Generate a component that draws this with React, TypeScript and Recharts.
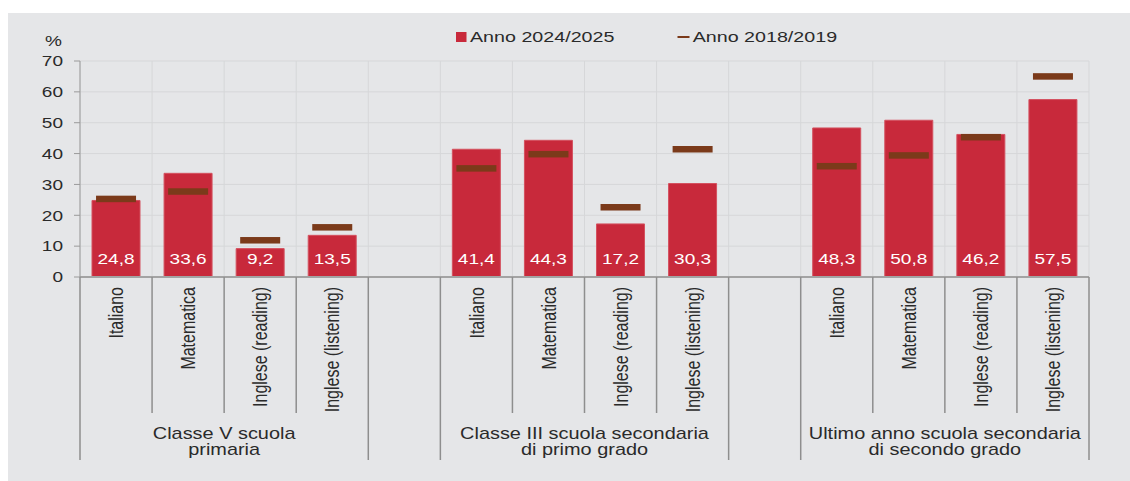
import { ComposedChart, Bar, Scatter, XAxis, YAxis, CartesianGrid, LabelList } from 'recharts';

// values (%)
const subjects = ['Italiano', 'Matematica', 'Inglese (reading)', 'Inglese (listening)'];
const groupLabels = [
    ['Classe V scuola', 'primaria'],
    ['Classe III scuola secondaria', 'di primo grado'],
    ['Ultimo anno scuola secondaria', 'di secondo grado'],
];
const anno2025 = [24.8, 33.6, 9.2, 13.5, 41.4, 44.3, 17.2, 30.3, 48.3, 50.8, 46.2, 57.5];
const anno2019 = [25.3, 27.7, 11.9, 16.1, 35.2, 39.8, 22.6, 41.4, 35.9, 39.4, 45.3, 65.0];
const yTicks = [0, 10, 20, 30, 40, 50, 60, 70];

type Row = {
    key: string;
    subject: string | null;
    pos: number;
    group: number;
    y2025: number | null;
    y2019: number | null;
};

const chartData: Row[] = [];
groupLabels.forEach((_, g) => {
    if (g > 0) chartData.push({ key: 'gap' + g, subject: null, pos: -1, group: g, y2025: null, y2019: null });
    subjects.forEach((s, i) => {
        chartData.push({
            key: g + '-' + s,
            subject: s,
            pos: i,
            group: g,
            y2025: anno2025[g * 4 + i],
            y2019: anno2019[g * 4 + i],
        });
    });
});

const W = 1122;
const H = 468;
const MARGIN = { top: 48, right: 41, left: 22, bottom: 4 };
const Y_AXIS_W = 50;
const X_AXIS_H = 200;
const PLOT_LEFT = MARGIN.left + Y_AXIS_W;
const PLOT_W = W - PLOT_LEFT - MARGIN.right;
const BAND = PLOT_W / chartData.length;

const SX = 1.27; // the original text is stretched horizontally
const FONT = 'Arial, "Liberation Sans", sans-serif';
const TEXT = '#2a2a2a';
const RED = '#c8293b';
const BROWN = '#7b3a1a';
const SEP = '#8e8e8e';

const fmt = (v: number) => v.toFixed(1).replace('.', ',');

const YTick = (props: any) => {
    const { x, y, payload } = props;
    return (
        <text
            transform={`translate(${x},${y}) scale(${SX},1)`}
            textAnchor="end"
            dy="0.355em"
            fontSize={15}
            fontFamily={FONT}
            fill={TEXT}
        >
            {payload.value}
        </text>
    );
};

const CategoryTick = (props: any) => {
    const { x, y, index } = props;
    const row = chartData[index];
    if (!row || !row.subject) return <g />;
    const left = x - BAND / 2;
    const right = x + BAND / 2;
    return (
        <g>
            <line x1={left} x2={left} y1={y} y2={y + (row.pos === 0 ? 183 : 136)} stroke={SEP} strokeWidth={1.5} />
            {row.pos === 3 && <line x1={right} x2={right} y1={y} y2={y + 183} stroke={SEP} strokeWidth={1.5} />}
            <text
                transform={`translate(${x},${y + 10}) scale(${SX},1) rotate(-90)`}
                textAnchor="end"
                dy="0.35em"
                fontSize={16}
                fontFamily={FONT}
                fill={TEXT}
            >
                {row.subject}
            </text>
            {row.pos === 0 &&
                groupLabels[row.group].map((line, i) => (
                    <text
                        key={i}
                        transform={`translate(${left + 2 * BAND},${y + 161.5 + i * 16.5}) scale(${SX * 0.98},1)`}
                        textAnchor="middle"
                        fontSize={16}
                        fontFamily={FONT}
                        fill={TEXT}
                    >
                        {line}
                    </text>
                ))}
        </g>
    );
};

const ValueLabel = (props: any) => {
    const { value } = props;
    if (value == null) return null;
    const vb = props.viewBox ?? props;
    const { x, y, width, height } = vb;
    return (
        <text
            transform={`translate(${x + width / 2},${y + height - 13.5}) scale(${SX},1)`}
            textAnchor="middle"
            fontSize={15}
            fontFamily={FONT}
            fill="#ffffff"
        >
            {fmt(value)}
        </text>
    );
};

const Marker = (props: any) => {
    const { cx, cy, payload } = props;
    if (!payload || payload.y2019 == null || !Number.isFinite(cx) || !Number.isFinite(cy)) return <g />;
    return <rect x={cx - 20} y={cy - 3.25} width={40} height={6.5} fill={BROWN} />;
};

const verticalLines = () => chartData.map((_, i) => PLOT_LEFT + i * BAND).concat(PLOT_LEFT + PLOT_W);

export default function App() {
    return (
        <div
            style={{
                position: 'absolute',
                left: 8,
                top: 13,
                width: W,
                height: H,
                background: '#e5e6e8',
            }}
        >
            <ComposedChart width={W} height={H} data={chartData} margin={MARGIN}>
                <CartesianGrid
                    stroke="#d6d7d9"
                    strokeWidth={1}
                    verticalCoordinatesGenerator={verticalLines}
                />
                <XAxis
                    dataKey="key"
                    height={X_AXIS_H}
                    interval={0}
                    tickLine={false}
                    tickSize={0}
                    tickMargin={0}
                    axisLine={{ stroke: '#a3a3a3', strokeWidth: 2 }}
                    tick={<CategoryTick />}
                />
                <YAxis
                    width={Y_AXIS_W}
                    domain={[0, 70]}
                    ticks={yTicks}
                    interval={0}
                    tickSize={6}
                    tickMargin={11}
                    axisLine={{ stroke: '#9a9a9a' }}
                    tickLine={{ stroke: '#9a9a9a' }}
                    tick={<YTick />}
                />
                <Bar dataKey="y2025" barSize={48} fill={RED} stroke="#d4515f" strokeWidth={1} isAnimationActive={false}>
                    <LabelList dataKey="y2025" content={<ValueLabel />} />
                </Bar>
                <Scatter dataKey="y2019" shape={<Marker />} isAnimationActive={false} />
            </ComposedChart>
            <svg
                width={W}
                height={H}
                style={{ position: 'absolute', left: 0, top: 0, pointerEvents: 'none' }}
            >
                <text
                    transform={`translate(45.5,32.5) scale(${SX},1)`}
                    textAnchor="middle"
                    fontSize={15}
                    fontFamily={FONT}
                    fill={TEXT}
                >
                    %
                </text>
                <rect x={448} y={19} width={10.5} height={10} fill={RED} />
                <text transform={`translate(462,28.7) scale(${SX},1)`} fontSize={15.5} fontFamily={FONT} fill={TEXT}>
                    Anno 2024/2025
                </text>
                <line x1={669.5} x2={681.5} y1={24} y2={24} stroke={BROWN} strokeWidth={2} />
                <text transform={`translate(684.7,28.7) scale(${SX},1)`} fontSize={15.5} fontFamily={FONT} fill={TEXT}>
                    Anno 2018/2019
                </text>
            </svg>
        </div>
    );
}
